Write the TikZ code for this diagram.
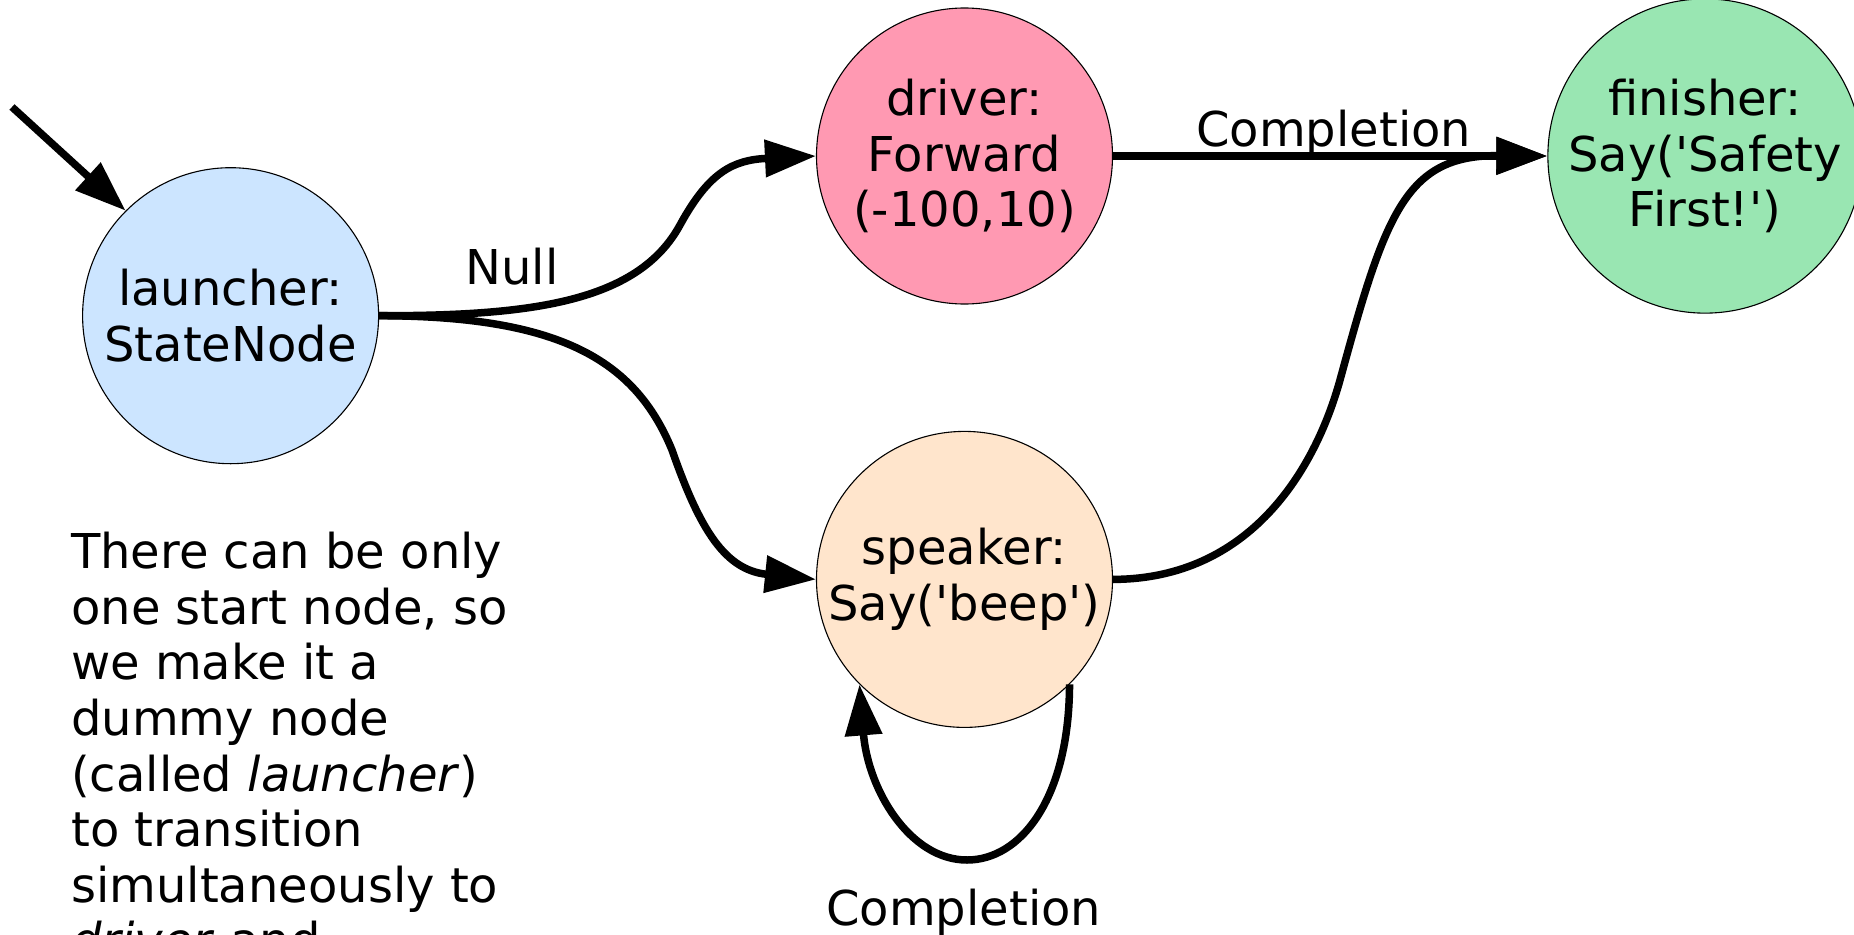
\documentclass[tikz,border=0pt]{standalone}
\usepackage{fontspec}
\setmainfont{DejaVu Sans}
\usetikzlibrary{arrows.meta}
\definecolor{cLaunch}{RGB}{204,229,255}
\definecolor{cDriver}{RGB}{255,153,178}
\definecolor{cFinish}{RGB}{153,230,178}
\definecolor{cSpeak}{RGB}{255,229,204}
\newcommand{\sq}{\textquotesingle}
\begin{document}
\begin{tikzpicture}[x=1pt,y=-1pt,
  state/.style={circle,draw=black,line width=1.1pt,minimum size=296pt,inner sep=0pt,align=center,font=\fontsize{48}{55.6}\selectfont},
  edge/.style={line width=7.5pt,-{Triangle[length=51pt,width=36pt]}},
  lbl/.style={font=\fontsize{48}{55.6}\selectfont,inner sep=0pt}]
\useasboundingbox (0,0) rectangle (1854,934);
\clip (0,0) rectangle (1854,934);
\node[state,fill=cLaunch] (launcher) at (230.6,315.7) {launcher:\\StateNode};
\node[state,fill=cDriver] (driver) at (964.5,156) {driver:\\Forward\\(-100,10)};
\node[state,fill=cFinish] (finisher) at (1705,156) {finisher:\\Say(\sq Safety\\First!\sq)};
\node[state,fill=cSpeak] (speaker) at (964.5,579.4) {speaker:\\Say(\sq beep\sq)};
\coordinate (start) at (12,107);
\coordinate (m1) at (680,225);
\coordinate (m2) at (672,450);
\coordinate (m3) at (1340,380);
\coordinate (m4) at (967,860);
\draw[edge] (start) -- (launcher.135);
\draw[edge] (launcher.east) .. controls (532,316) and (638,302) .. (m1)
  .. controls (709,172) and (733,160) .. (driver.west);
\draw[edge] (launcher.east) .. controls (560,316) and (635,360) .. (m2)
  .. controls (700,530) and (725,570) .. (speaker.west);
\draw[edge] (driver.east) -- (finisher.west);
\draw[edge] (speaker.east) .. controls (1250,579) and (1315,470) .. (m3)
  .. controls (1385,215) and (1405,155) .. (finisher.west);
\draw[edge] (speaker.-45) .. controls (1069,800) and (1020,860) .. (m4)
  .. controls (910,860) and (868,790) .. (speaker.-135);
\node[lbl,anchor=base] (lnull) at (512,284) {Null};
\node[lbl,anchor=base] (lcomp1) at (1333.7,146) {Completion};
\node[lbl,anchor=base] (lcomp2) at (963.7,925) {Completion};
\node[lbl,anchor=north west,align=left] (note) at (71,532) {There can be only\\one start node, so\\we make it a\\dummy node\\(called \textit{launcher})\\to transition\\simultaneously to\\\textit{driver} and};
\end{tikzpicture}
\end{document}
